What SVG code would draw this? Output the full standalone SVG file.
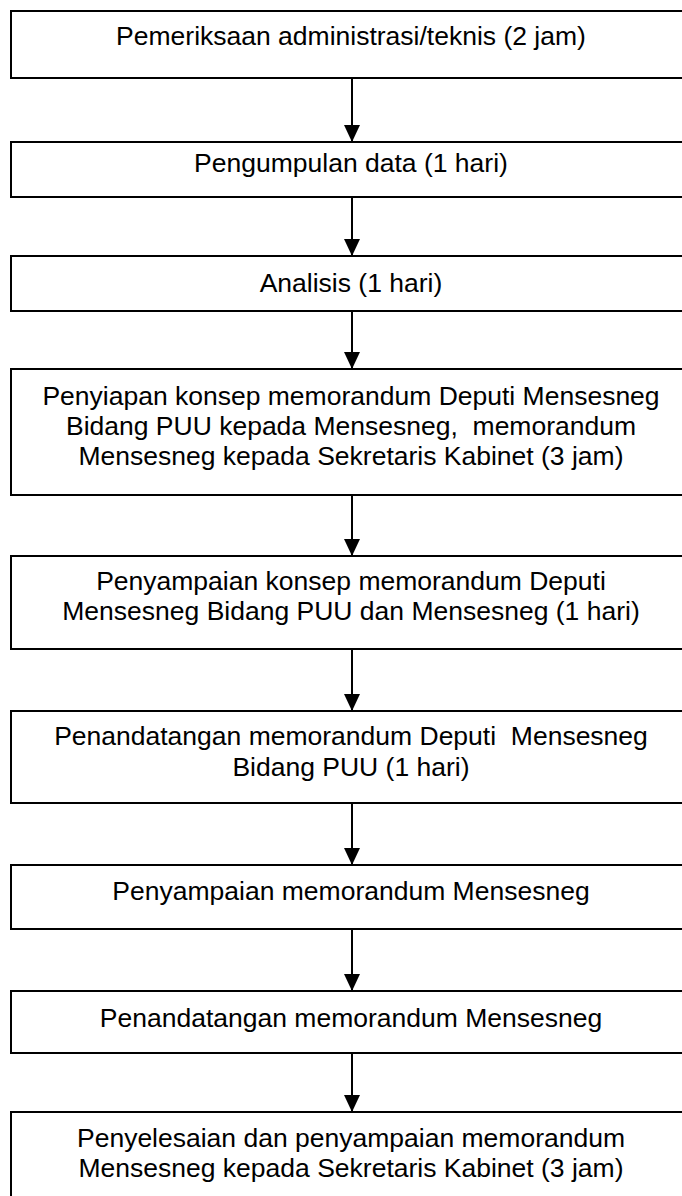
<svg xmlns="http://www.w3.org/2000/svg" width="682" height="1196" viewBox="0 0 682 1196">
<defs>
<style>
.box{fill:#fff;stroke:#000;stroke-width:2}
.t{font-family:"Liberation Sans",Arial,sans-serif;font-size:26.5px;fill:#000;text-anchor:middle;white-space:pre}
.c{stroke:#000;stroke-width:2;fill:none;marker-end:url(#ah)}
</style>
<marker id="ah" viewBox="0 0 17 16" refX="17" refY="8" markerWidth="17" markerHeight="16" markerUnits="userSpaceOnUse" orient="auto">
<path d="M0,0 L17,8 L0,16 z" fill="#000"/>
</marker>
</defs>
<rect width="682" height="1196" fill="#fff"/>
<g id="connectors">
<line class="c" x1="352" y1="79" x2="352" y2="142"/>
<line class="c" x1="352" y1="198" x2="352" y2="256"/>
<line class="c" x1="352" y1="312" x2="352" y2="369"/>
<line class="c" x1="352" y1="496" x2="352" y2="556"/>
<line class="c" x1="352" y1="650" x2="352" y2="711"/>
<line class="c" x1="352" y1="804" x2="352" y2="865"/>
<line class="c" x1="352" y1="930" x2="352" y2="991"/>
<line class="c" x1="352" y1="1054" x2="352" y2="1112"/>
</g>
<g id="n1"><rect class="box" x="11" y="11" width="690" height="67"/><text class="t" x="351" y="45">Pemeriksaan administrasi/teknis (2 jam)</text></g>
<g id="n2"><rect class="box" x="11" y="142" width="690" height="55"/><text class="t" x="351" y="172">Pengumpulan data (1 hari)</text></g>
<g id="n3"><rect class="box" x="11" y="256" width="690" height="55"/><text class="t" x="351" y="292">Analisis (1 hari)</text></g>
<g id="n4"><rect class="box" x="11" y="369" width="690" height="126"/><text class="t" x="351" y="405">Penyiapan konsep memorandum Deputi Mensesneg</text><text class="t" x="351" y="435">Bidang PUU kepada Mensesneg,  memorandum</text><text class="t" x="351" y="465">Mensesneg kepada Sekretaris Kabinet (3 jam)</text></g>
<g id="n5"><rect class="box" x="11" y="556" width="690" height="93"/><text class="t" x="351" y="590">Penyampaian konsep memorandum Deputi</text><text class="t" x="351" y="620">Mensesneg Bidang PUU dan Mensesneg (1 hari)</text></g>
<g id="n6"><rect class="box" x="11" y="711" width="690" height="92"/><text class="t" x="351" y="745">Penandatangan memorandum Deputi  Mensesneg</text><text class="t" x="351" y="776">Bidang PUU (1 hari)</text></g>
<g id="n7"><rect class="box" x="11" y="865" width="690" height="64"/><text class="t" x="351" y="900">Penyampaian memorandum Mensesneg</text></g>
<g id="n8"><rect class="box" x="11" y="991" width="690" height="62"/><text class="t" x="351" y="1027">Penandatangan memorandum Mensesneg</text></g>
<g id="n9"><rect class="box" x="11" y="1112" width="690" height="100"/><text class="t" x="351" y="1147">Penyelesaian dan penyampaian memorandum</text><text class="t" x="351" y="1177">Mensesneg kepada Sekretaris Kabinet (3 jam)</text></g>
</svg>
